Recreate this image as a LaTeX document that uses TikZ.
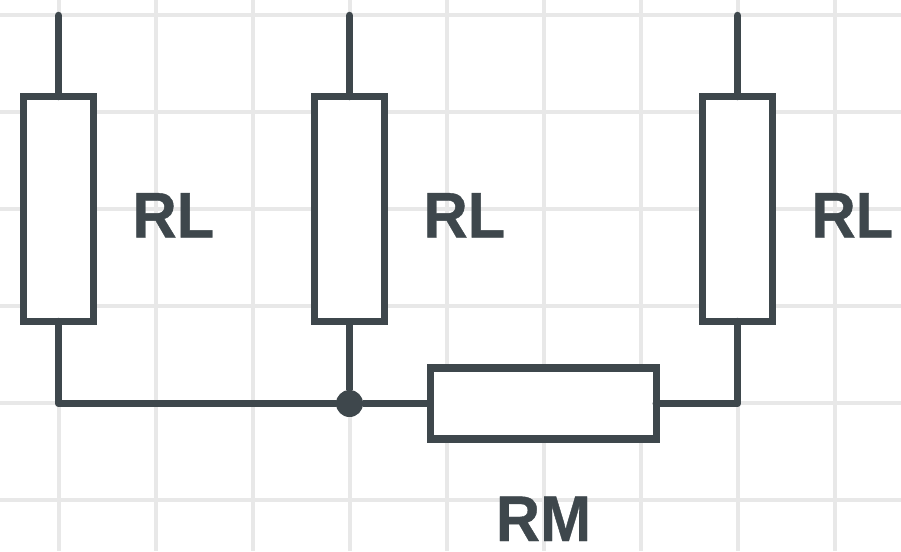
\documentclass[tikz,border=0pt]{standalone}
\usepackage{fontspec}
\setmainfont{Liberation Sans}
\newfontfamily\labfont[FakeBold=0.6]{Liberation Sans Bold}
\definecolor{ink}{HTML}{3E474C}
\definecolor{gridc}{HTML}{E8E8E8}
\tikzset{
  gridline/.style={draw=gridc,line width=4pt},
  wire/.style={draw=ink,line width=7.5pt},
  resistorv/.style={draw=ink,fill=white,line width=7.4pt,rectangle,outer sep=0pt,inner sep=0pt,minimum width=70.5pt,minimum height=225pt},
  resistorh/.style={draw=ink,fill=white,line width=7.4pt,rectangle,outer sep=0pt,inner sep=0pt,minimum width=225.5pt,minimum height=71pt},
  lab/.style={text=ink,font=\fontsize{64.5pt}{64.5pt}\selectfont\labfont,inner sep=0pt,outer sep=0pt,xscale=.95,transform shape},
  junction/.style={circle,fill=ink,inner sep=0pt,outer sep=0pt,minimum size=27pt}
}
\begin{document}
\begin{tikzpicture}[x=1pt,y=-1pt]
\useasboundingbox (0,0) rectangle (901,551);
\fill[white] (0,0) rectangle (901,551);
\foreach \gx in {58.5,155.5,252.5,349.5,446.5,543.5,640.5,737.5,834.5}
  \draw[gridline] (\gx,0) -- (\gx,551);
\foreach \gy in {15,112,209,306,403,500}
  \draw[gridline] (0,\gy) -- (901,\gy);
\coordinate (t1) at (58.5,15.5);
\coordinate (t2) at (349.5,15.5);
\coordinate (t3) at (737.5,15.5);
\coordinate (c1) at (58.5,403.5);
\coordinate (c3) at (737.5,403.5);
\node[junction] (j) at (349.5,403.5) {};
\node[resistorv] (r1) at (58.5,209) {};
\node[resistorv] (r2) at (349.5,209) {};
\node[resistorv] (r3) at (737.5,209) {};
\node[resistorh] (rm) at (543.5,403.5) {};
\draw[wire,line cap=round] (t1) -- (r1.north);
\draw[wire,line cap=round] (t2) -- (r2.north);
\draw[wire,line cap=round] (t3) -- (r3.north);
\draw[wire,line cap=round,line join=round] (r1.south) -- (c1) -- (j);
\draw[wire] (r2.south) -- (j);
\draw[wire] (j) -- (rm.west);
\draw[wire,line cap=round,line join=round] (rm.east) -- (c3) -- (r3.south);
\node[lab,anchor=base west] (l1) at (132.5,237.5) {RL};
\node[lab,anchor=base west] (l2) at (423.5,237.5) {RL};
\node[lab,anchor=base west] (l3) at (811.5,237.5) {RL};
\node[lab,anchor=base] (l4) at (543.5,541) {RM};
\end{tikzpicture}
\end{document}
